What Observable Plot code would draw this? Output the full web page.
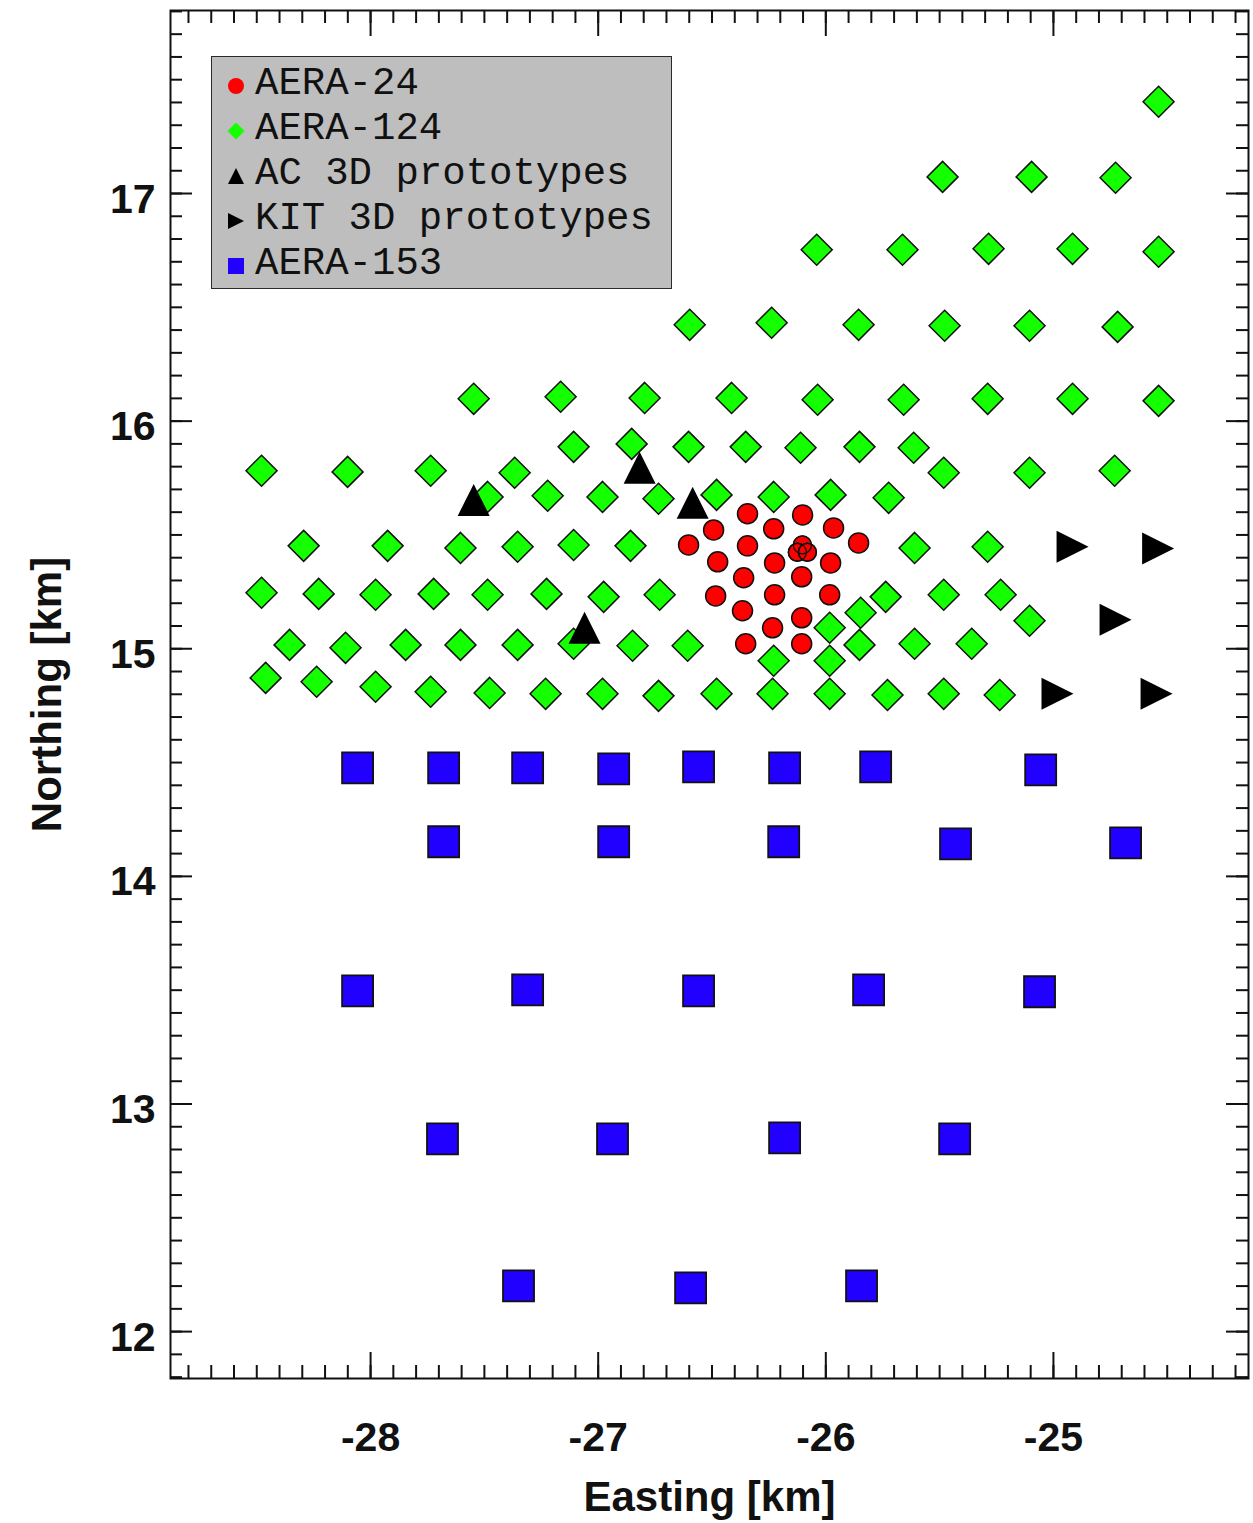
<!DOCTYPE html>
<html>
<head>
<meta charset="utf-8">
<script src="https://cdn.jsdelivr.net/npm/d3@7"></script>
<script src="https://cdn.jsdelivr.net/npm/@observablehq/plot@0.6"></script>
<style>
  body { margin: 0; background: #fff; }
  #wrap { position: relative; width: 1253px; height: 1523px; }
  #legend {
    position: absolute; left: 211px; top: 56px; width: 461px; height: 233px;
    box-sizing: border-box; background: #bebebe; border: 1.5px solid #2a2a2a;
    font-family: "Courier New", "Liberation Mono", monospace; font-size: 39px; color: #111;
  }
  .lrow { position: absolute; left: 0; height: 45px; line-height: 45px; white-space: pre; }
  .lsym { position: absolute; left: 13px; top: 15px; }
  .ltxt { position: absolute; left: 43px; top: 0; }
</style>
</head>
<body>
<div id="wrap"></div>
<script>
// ---------------- data (km) ----------------
const seriesNames  = ["AERA-24", "AERA-124", "AC 3D prototypes", "KIT 3D prototypes", "AERA-153"];
const seriesColors = ["#ff0000", "#14ff00", "#000000", "#000000", "#2200ff"];
const seriesKeys   = ["circle", "diamond", "triUp", "triRight", "square"];

const aera24 = [
  [-26.344,15.593],[-26.102,15.588],[-26.493,15.522],[-26.229,15.527],[-25.966,15.531],
  [-26.603,15.456],[-26.344,15.452],[-25.856,15.465],[-26.475,15.382],[-26.225,15.377],
  [-25.979,15.377],[-26.361,15.312],[-26.106,15.316],[-26.484,15.232],[-26.225,15.237],
  [-25.983,15.237],[-26.366,15.167],[-26.106,15.136],[-26.234,15.092],[-26.352,15.022],
  [-26.106,15.022]
];
const aera24Center = [[-26.103,15.456],[-26.125,15.424],[-26.081,15.424]];

const aera124 = [
  [-24.538,17.403],
  [-25.487,17.073],[-25.096,17.073],[-24.727,17.069],
  [-26.040,16.753],[-25.663,16.753],[-25.285,16.757],[-24.916,16.757],[-24.538,16.744],
  [-26.598,16.423],[-26.238,16.432],[-25.856,16.423],[-25.478,16.419],[-25.105,16.419],[-24.718,16.414],
  [-27.547,16.098],[-27.165,16.107],[-26.796,16.102],[-26.414,16.102],[-26.036,16.094],[-25.658,16.094],[-25.289,16.098],[-24.916,16.098],[-24.538,16.089],
  [-27.108,15.887],[-26.853,15.900],[-26.603,15.887],[-26.352,15.887],[-26.111,15.883],[-25.852,15.887],[-25.614,15.883],
  [-28.479,15.782],[-28.101,15.777],[-27.736,15.782],[-27.367,15.773],[-25.482,15.773],[-25.105,15.773],[-24.731,15.782],
  [-27.486,15.667],[-27.222,15.672],[-26.981,15.667],[-26.735,15.659],[-26.480,15.676],[-26.229,15.667],[-25.979,15.676],[-25.724,15.663],
  [-28.294,15.452],[-27.925,15.452],[-27.605,15.443],[-27.354,15.448],[-27.108,15.456],[-26.858,15.452],[-25.610,15.443],[-25.289,15.448],
  [-28.479,15.246],[-28.228,15.241],[-27.978,15.237],[-27.723,15.241],[-27.486,15.237],[-27.227,15.241],[-26.976,15.228],[-26.730,15.237],[-25.737,15.228],[-25.482,15.237],[-25.232,15.237],
  [-25.847,15.158],[-25.983,15.092],[-25.105,15.123],
  [-28.356,15.017],[-28.110,15.004],[-27.846,15.017],[-27.605,15.017],[-27.354,15.017],[-27.108,15.022],[-26.849,15.013],[-26.607,15.013],[-25.852,15.017],[-25.610,15.022],[-25.359,15.022],
  [-26.229,14.947],[-25.983,14.947],
  [-28.461,14.872],[-28.237,14.855],[-27.978,14.833],[-27.736,14.811],[-27.477,14.806],[-27.231,14.802],[-26.981,14.802],[-26.735,14.793],[-26.480,14.802],[-26.234,14.802],[-25.983,14.802],[-25.729,14.797],[-25.482,14.802],[-25.236,14.797]
];

const acPrototypes  = [[-27.547,15.654],[-26.818,15.795],[-26.585,15.641],[-27.060,15.092]];
const kitPrototypes = [[-24.916,15.448],[-24.540,15.440],[-24.727,15.127],[-24.982,14.802],[-24.547,14.802]];

const aera153 = [
  [-28.057,14.477],[-27.679,14.477],[-27.310,14.477],[-26.932,14.472],[-26.559,14.481],[-26.181,14.477],[-25.781,14.481],[-25.056,14.468],
  [-27.679,14.152],[-26.932,14.152],[-26.185,14.152],[-25.430,14.143],[-24.683,14.147],
  [-28.057,13.497],[-27.310,13.501],[-26.559,13.497],[-25.812,13.501],[-25.061,13.493],
  [-27.684,12.847],[-26.937,12.847],[-26.181,12.851],[-25.434,12.847],
  [-27.350,12.201],[-26.594,12.192],[-25.843,12.201]
];

const xTickLabels = [-28, -27, -26, -25];
const yTickLabels = [12, 13, 14, 15, 16, 17];
const xTitle = "Easting [km]";
const yTitle = "Northing [km]";

// ---------------- layout ----------------
const W = 1253, H = 1523, mL = 170, mR = 5, mT = 10, mB = 145;
const plotW = W - mL - mR, plotH = H - mT - mB;
const xDomain = [-28.879, -24.143];
const yDomain = [11.794, 17.804];
const xMinor = d3.range(-288, -241).map(v => v / 10);
const yMinor = d3.range(118, 179).map(v => v / 10);

// custom symbols (half-extent = r)
const rad = size => Math.sqrt(size / Math.PI);
const symbols = {
  circle: d3.symbolCircle,
  diamond: {draw(c, s) { const r = rad(s); c.moveTo(0, -r); c.lineTo(r, 0); c.lineTo(0, r); c.lineTo(-r, 0); c.closePath(); }},
  square: {draw(c, s) { const r = rad(s); c.rect(-r, -r, 2 * r, 2 * r); }},
  triUp: {draw(c, s) { const r = rad(s); c.moveTo(0, -r); c.lineTo(r, r); c.lineTo(-r, r); c.closePath(); }},
  triRight: {draw(c, s) { const r = rad(s); c.moveTo(r, 0); c.lineTo(-r, r); c.lineTo(-r, -r); c.closePath(); }}
};

const axisFont = "'Liberation Sans', Arial, Helvetica, sans-serif";
const ink = "#111";
const px = d => d[0], py = d => d[1];

const chart = Plot.plot({
  width: W, height: H,
  marginLeft: mL, marginRight: mR, marginTop: mT, marginBottom: mB,
  x: {domain: xDomain, axis: null},
  y: {domain: yDomain, axis: null},
  style: {background: "#fff", overflow: "visible"},
  marks: [
    // minor & major inward ticks on all four sides
    Plot.tickX(xMinor, {x: d => d, insetTop: plotH - 13, stroke: ink, strokeWidth: 2}),
    Plot.tickX(xMinor, {x: d => d, insetBottom: plotH - 13, stroke: ink, strokeWidth: 2}),
    Plot.tickX(xTickLabels, {x: d => d, insetTop: plotH - 26, stroke: ink, strokeWidth: 2}),
    Plot.tickX(xTickLabels, {x: d => d, insetBottom: plotH - 26, stroke: ink, strokeWidth: 2}),
    Plot.tickY(yMinor, {y: d => d, insetRight: plotW - 12, stroke: ink, strokeWidth: 2}),
    Plot.tickY(yMinor, {y: d => d, insetLeft: plotW - 12, stroke: ink, strokeWidth: 2}),
    Plot.tickY(yTickLabels, {y: d => d, insetRight: plotW - 22, stroke: ink, strokeWidth: 2}),
    Plot.tickY(yTickLabels, {y: d => d, insetLeft: plotW - 22, stroke: ink, strokeWidth: 2}),

    // stations
    Plot.dot(aera124, {x: px, y: py, symbol: symbols.diamond, r: 15.5, fill: seriesColors[1], stroke: ink, strokeWidth: 1.5}),
    Plot.dot(aera24, {x: px, y: py, r: 10, fill: seriesColors[0], stroke: ink, strokeWidth: 1.5}),
    Plot.dot(aera24Center, {x: px, y: py, r: 9, fill: seriesColors[0], stroke: ink, strokeWidth: 1.5}),
    Plot.dot(aera24Center, {x: px, y: py, r: 9, fill: "none", stroke: ink, strokeWidth: 1.3}),
    Plot.dot(acPrototypes, {x: px, y: py, symbol: symbols.triUp, r: 16, fill: seriesColors[2], stroke: "none"}),
    Plot.dot(kitPrototypes, {x: px, y: py, symbol: symbols.triRight, r: 16, fill: seriesColors[3], stroke: "none"}),
    Plot.dot(aera153, {x: px, y: py, symbol: symbols.square, r: 15.5, fill: seriesColors[4], stroke: ink, strokeWidth: 1.8}),

    // tick labels
    Plot.text(xTickLabels, {x: d => d, frameAnchor: "bottom", lineAnchor: "middle", dy: 59, text: d => String(d),
      fontSize: 41, fontWeight: "bold", fontFamily: axisFont, fill: ink}),
    Plot.text(yTickLabels, {y: d => d, frameAnchor: "left", lineAnchor: "middle", dx: -15, dy: 6, textAnchor: "end", text: d => String(d),
      fontSize: 41, fontWeight: "bold", fontFamily: axisFont, fill: ink}),

    // axis titles
    Plot.text([xTitle], {frameAnchor: "bottom", lineAnchor: "middle", textAnchor: "middle", dy: 119, text: d => d,
      fontSize: 42, fontWeight: "bold", fontFamily: axisFont, fill: ink}),
    Plot.text([yTitle], {frameAnchor: "left", lineAnchor: "middle", textAnchor: "middle", dx: -123, rotate: -90, text: d => d,
      fontSize: 42, fontWeight: "bold", fontFamily: axisFont, fill: ink}),

    Plot.frame({stroke: ink, strokeWidth: 2})
  ]
});

const wrap = document.getElementById("wrap");
wrap.appendChild(chart);

// ---------------- legend (inside plot, top-left) ----------------
const legend = document.createElement("div");
legend.id = "legend";
seriesNames.forEach((name, i) => {
  const row = document.createElement("div");
  row.className = "lrow";
  row.style.top = (5 + i * 45) + "px";
  const svg = d3.create("svg").attr("class", "lsym").attr("width", 22).attr("height", 22)
    .style("top", "13px");
  const r = i === 1 ? 8.5 : 8;
  svg.append("path")
    .attr("transform", "translate(11,11)")
    .attr("d", d3.symbol(symbols[seriesKeys[i]], r * r * Math.PI)())
    .attr("fill", seriesColors[i]);
  row.appendChild(svg.node());
  const t = document.createElement("span");
  t.className = "ltxt";
  t.textContent = name;
  row.appendChild(t);
  legend.appendChild(row);
});
wrap.appendChild(legend);
</script>
</body>
</html>
